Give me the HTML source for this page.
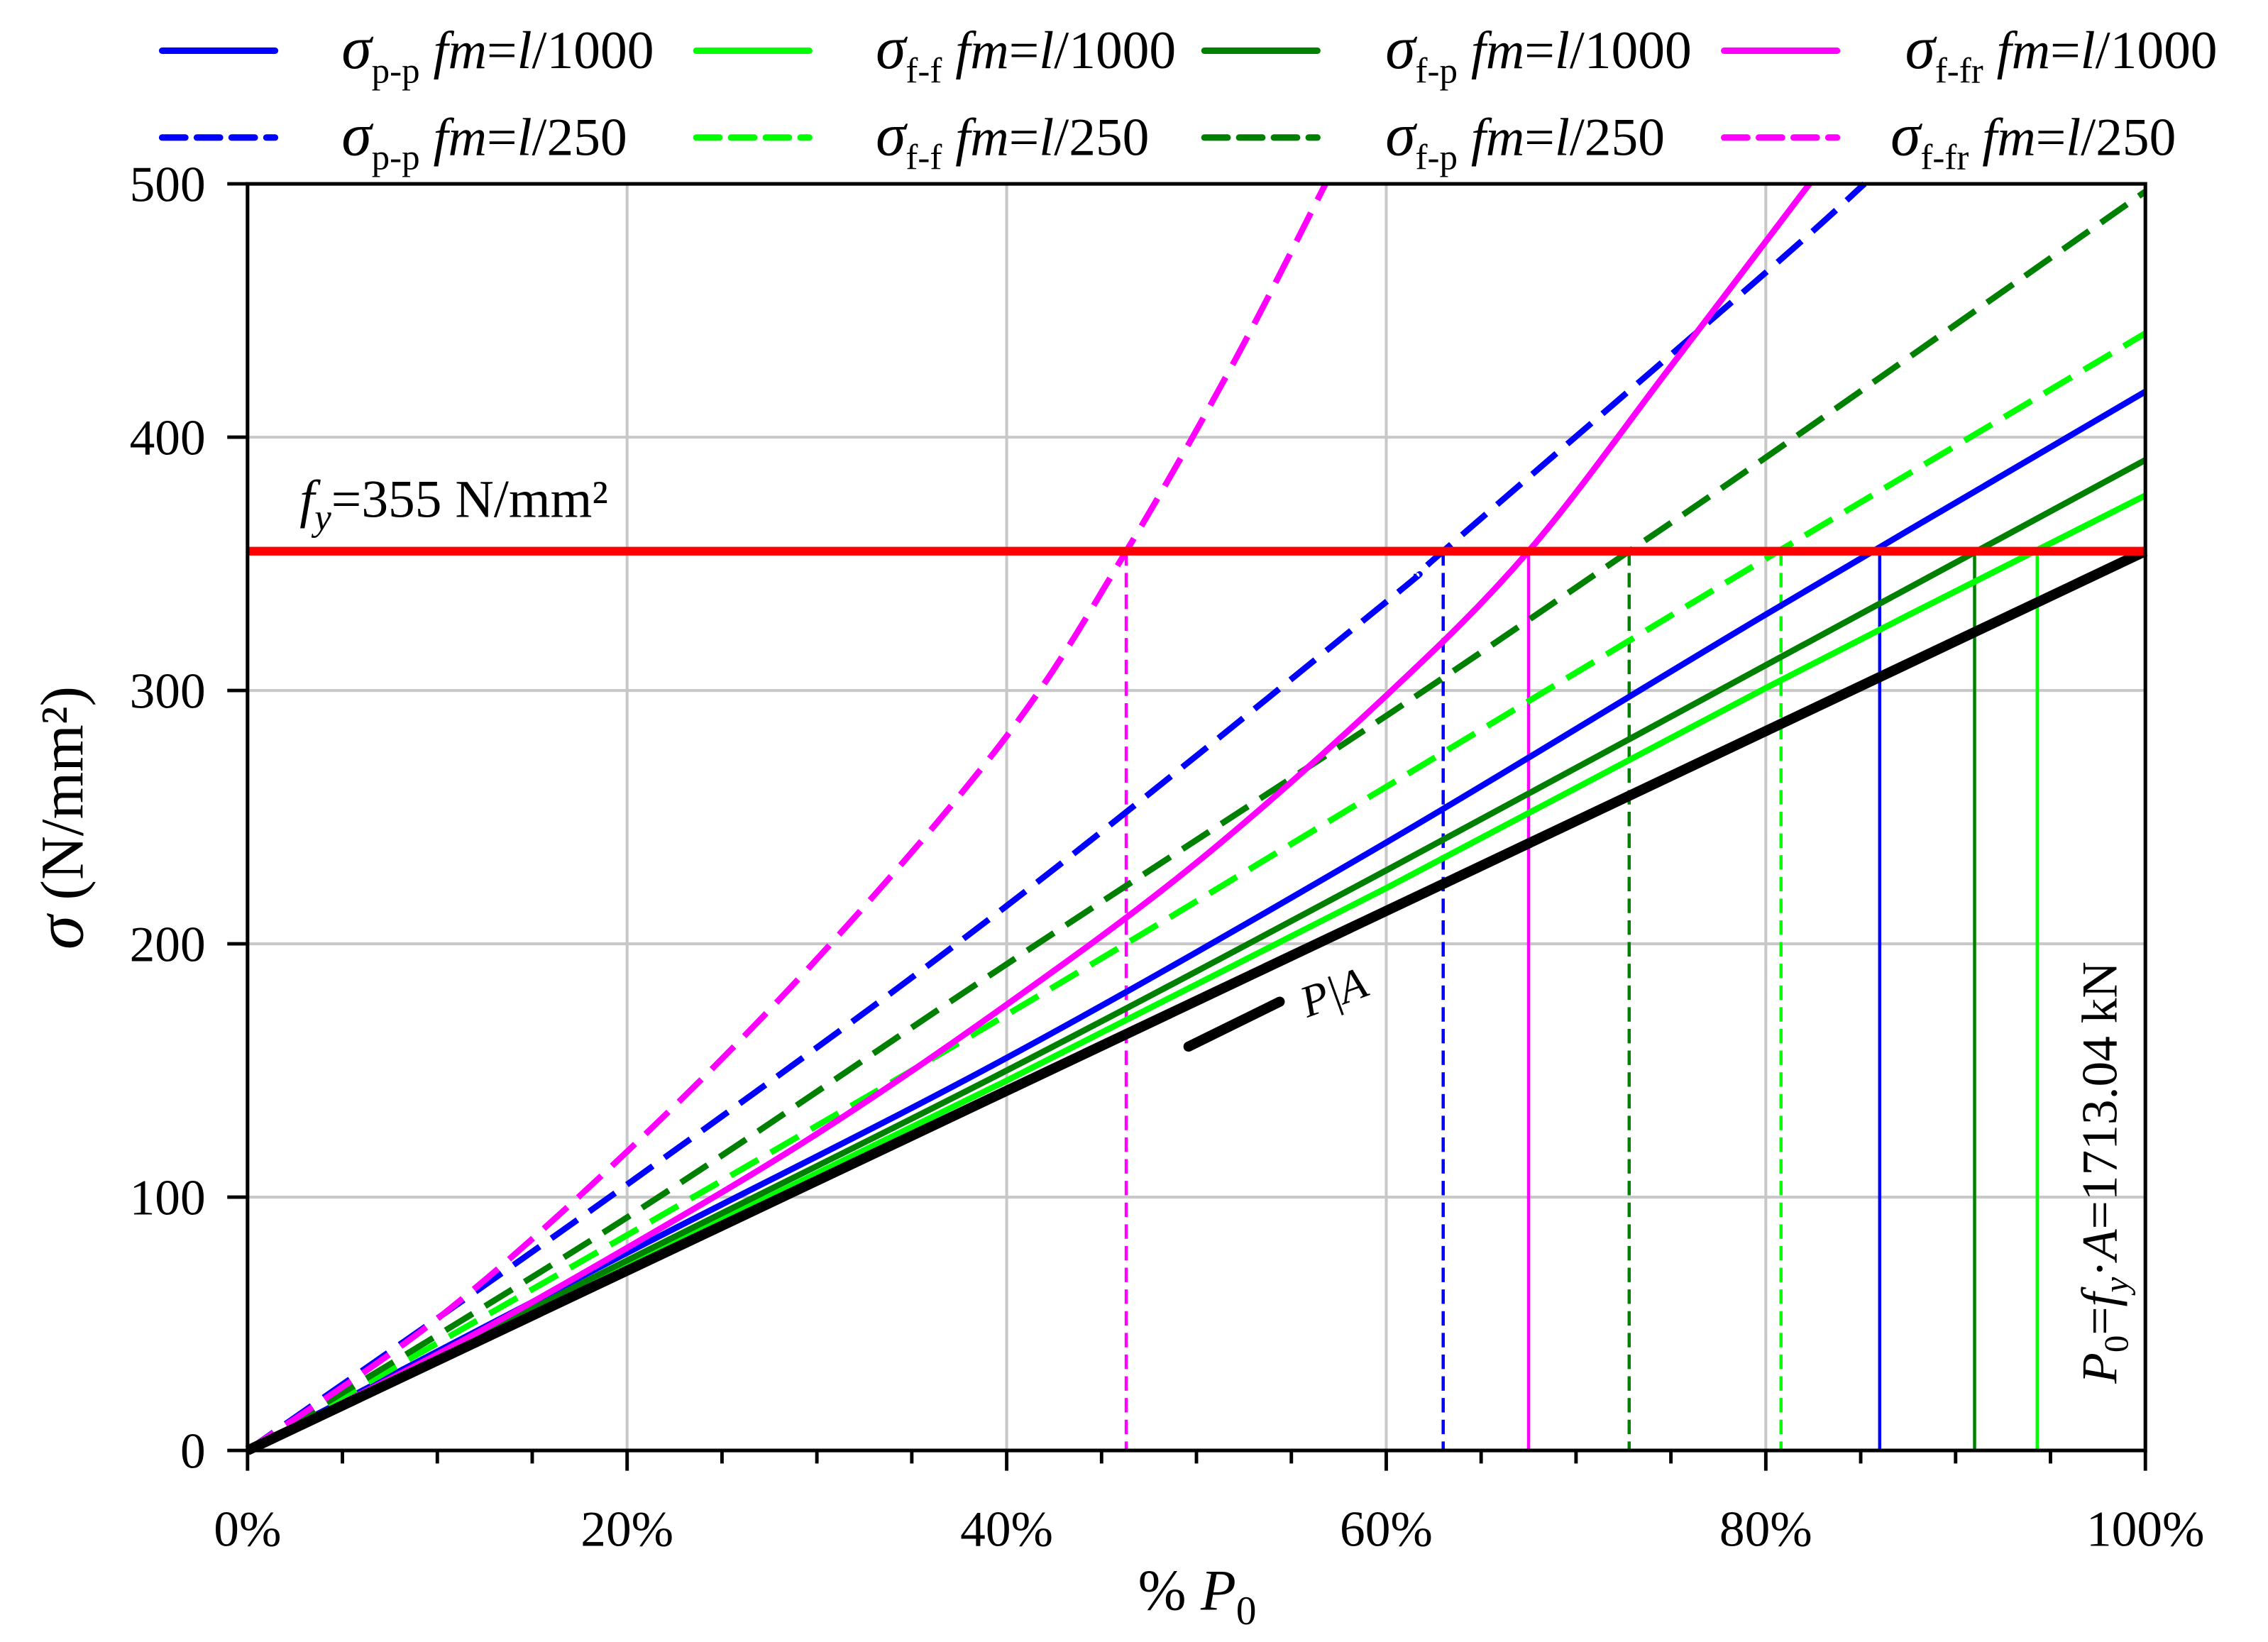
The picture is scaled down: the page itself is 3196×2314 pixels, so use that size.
<!DOCTYPE html>
<html><head><meta charset="utf-8"><style>
html,body{margin:0;padding:0;background:#fff}
svg{display:block}
text{font-family:"Liberation Serif",serif;fill:#000}
</style></head><body>
<svg id="chart" xmlns="http://www.w3.org/2000/svg" width="3196" height="2314" viewBox="0 0 1566.7 1134.3">
<g id="grid"></g>
<g id="series"></g>
<g id="axes"></g>
<g id="legend"></g>
<text x="207" y="357" font-size="37"><tspan font-style="italic">f</tspan><tspan font-style="italic" font-size="26" dy="9">y</tspan><tspan dy="-9">=355 N/mm²</tspan></text>
<text transform="translate(1462,810) rotate(-90)" text-anchor="middle" font-size="35"><tspan font-style="italic">P</tspan><tspan font-size="24" dy="8">0</tspan><tspan dy="-8">=</tspan><tspan font-style="italic">f</tspan><tspan font-style="italic" font-size="24" dy="8">y</tspan><tspan dy="-8">·</tspan><tspan font-style="italic">A</tspan><tspan>=1713.04 kN</tspan></text>
<line x1="821" y1="723" x2="884" y2="692" stroke="#000" stroke-width="7" stroke-linecap="round"/>
<text transform="translate(903,703) rotate(-20)" font-size="31" font-style="italic">P|A</text>
<text x="827" y="1112" text-anchor="middle" font-size="40">% <tspan font-style="italic">P</tspan><tspan font-size="28" dy="10">0</tspan></text>
<text transform="translate(57,565) rotate(-90)" text-anchor="middle" font-size="42"><tspan font-style="italic" font-size="48">σ</tspan> (N/mm²)</text>
</svg>
<script>
const xMax = 100, yMax = 500;
const xTicks = [0,20,40,60,80,100];
const xTickLabels = ["0%","20%","40%","60%","80%","100%"];
const yTicks = [0,100,200,300,400,500];
const yTickLabels = ["0","100","200","300","400","500"];
const fy = 355;
const paX = [0,100];
const paY = [0,355];
const ppSolidX = [0,20,40,60,80,100];
const ppSolidY = [0,78,155,240,330,418];
const fpSolidX = [0,20,40,60,80,100];
const fpSolidY = [0,75,150,229,310,391];
const ffSolidX = [0,20,40,60,80,100];
const ffSolidY = [0,73,146,222,301,377];
const frSolidX = [0,10,20,30,40,50,60,67.5,75,82.3];
const frSolidY = [0,38,80,125,176,232,298,355,428,500];
const frDashX = [0,10,20,30,40,46.3,52,56.8];
const frDashY = [0,52,118,194,282,355,430,500];
const ppDashX = [0,20,40,60,63,80,85.2];
const ppDashY = [0,105,215,335,355,465,500];
const fpDashX = [0,20,40,60,72.8,80,100];
const fpDashY = [0,92,192,290,355,392,497];
const ffDashX = [0,20,40,60,80,100];
const ffDashY = [0,85,172,262,352,441];
const yieldX = [46.3,63,67.5,72.8,80.8,86,91,94.3];
const yieldColors = ["#ff00ff","#0000ff","#ff00ff","#008000","#00ff00","#0000ff","#008000","#00ff00"];
const yieldDashed = [true,true,false,true,true,false,false,false];

const L=171,R=1482,T=127,B=1002;
const NS="http://www.w3.org/2000/svg";
function sx(v){return L+(R-L)*v/xMax;}
function sy(v){return B-(B-T)*v/yMax;}
function mk(tag,attrs,parent){const e=document.createElementNS(NS,tag);for(const k in attrs)e.setAttribute(k,attrs[k]);parent.appendChild(e);return e;}
const grid=document.getElementById('grid'),ser=document.getElementById('series'),ax=document.getElementById('axes'),leg=document.getElementById('legend');
xTicks.forEach((t,i)=>{ if(t>0&&t<xMax){const g=mk('line',{x1:sx(t),x2:sx(t),y1:T,y2:B,stroke:'#c8c8c8','stroke-width':2},grid);

}});
yTicks.forEach((t,i)=>{ if(t>0&&t<yMax){const g=mk('line',{x1:L,x2:R,y1:sy(t),y2:sy(t),stroke:'#c8c8c8','stroke-width':2},grid);

}});
function series(xs,ys,color,dash,name,w){
 const P=xs.map((x,i)=>[sx(x),sy(ys[i])]);
 let d='M'+P[0][0].toFixed(2)+','+P[0][1].toFixed(2);
 for(let i=0;i<P.length-1;i++){
  const p0=P[Math.max(0,i-1)],p1=P[i],p2=P[i+1],p3=P[Math.min(P.length-1,i+2)];
  const c1=[p1[0]+(p2[0]-p0[0])/6,p1[1]+(p2[1]-p0[1])/6];
  const c2=[p2[0]-(p3[0]-p1[0])/6,p2[1]-(p3[1]-p1[1])/6];
  d+=' C'+c1.map(v=>v.toFixed(2)).join(',')+' '+c2.map(v=>v.toFixed(2)).join(',')+' '+p2.map(v=>v.toFixed(2)).join(',');
 }
 const p=mk('path',{d:d,fill:'none',stroke:color,'stroke-width':w||4.2,'stroke-dasharray':dash?'22,10':'none','stroke-linejoin':'round'},ser);
 
 
}
yieldX.forEach((x,i)=>{const l=mk('line',{x1:sx(x),x2:sx(x),y1:sy(fy),y2:B,stroke:yieldColors[i],'stroke-width':2.2,'stroke-dasharray':yieldDashed[i]?'10,5':'none'},ser);

});
series(ffSolidX,ffSolidY,'#00ff00',false,'line-ff-l1000');
series(fpSolidX,fpSolidY,'#008000',false,'line-fp-l1000');
series(ppSolidX,ppSolidY,'#0000ff',false,'line-pp-l1000');
series(ffDashX,ffDashY,'#00ff00',true,'line-ff-l250');
series(fpDashX,fpDashY,'#008000',true,'line-fp-l250');
series(ppDashX,ppDashY,'#0000ff',true,'line-pp-l250');
series(frSolidX,frSolidY,'#ff00ff',false,'line-ffr-l1000');
series(frDashX,frDashY,'#ff00ff',true,'line-ffr-l250');
series(paX,paY,'#000',false,'line-p-over-a',7);
const yl=mk('line',{x1:L,x2:R,y1:sy(fy),y2:sy(fy),stroke:'#ff0000','stroke-width':6},ser);


const fr=mk('rect',{x:L,y:T,width:R-L,height:B-T,fill:'none',stroke:'#000','stroke-width':2.5},ax);


for(let v=0;v<=xMax;v+=5){const major=v%20===0;const t=mk('line',{x1:sx(v),x2:sx(v),y1:B,y2:B+(major?14:9),stroke:'#000','stroke-width':2.4},ax);

}
xTicks.forEach((v,i)=>{const t=mk('text',{x:sx(v),y:B+66,'text-anchor':'middle','font-size':35},ax);t.textContent=xTickLabels[i];

});
yTicks.forEach((v,i)=>{const t=mk('line',{x1:L-14,x2:L,y1:sy(v),y2:sy(v),stroke:'#000','stroke-width':2.4},ax);


const lb=mk('text',{x:142,y:sy(v)+12,'text-anchor':'end','font-size':35},ax);lb.textContent=yTickLabels[i];

});
const legendSub=["p-p","f-f","f-p","f-fr"];
const legendCols=["#0000ff","#00ff00","#008000","#ff00ff"];
const legendLineX=[112,481,832,1191];
const legendTextX=[236,605,957,1316];
const legendRows=[{y:35,dash:false,txt:"1000"},{y:95,dash:true,txt:"250"}];
legendRows.forEach((r,ri)=>{legendSub.forEach((s,i)=>{
 const ln=mk('line',{x1:legendLineX[i],x2:legendLineX[i]+78,y1:r.y,y2:r.y,stroke:legendCols[i],'stroke-width':4.5,'stroke-dasharray':r.dash?'16,8':'none','stroke-linecap':'round'},leg);
 
 
 const tx=legendTextX[i]-(ri===1&&i===3?10:0);
 const t=mk('text',{x:tx,y:r.y+12,'font-size':37},leg);
 t.innerHTML='<tspan font-style="italic" font-size="42">σ</tspan><tspan font-size="25" dy="10">'+s+'</tspan><tspan dy="-10"> </tspan><tspan font-style="italic">f</tspan><tspan font-style="italic">m</tspan>=<tspan font-style="italic">l</tspan>/'+r.txt;
 
 
});});
</script>
</body></html>
